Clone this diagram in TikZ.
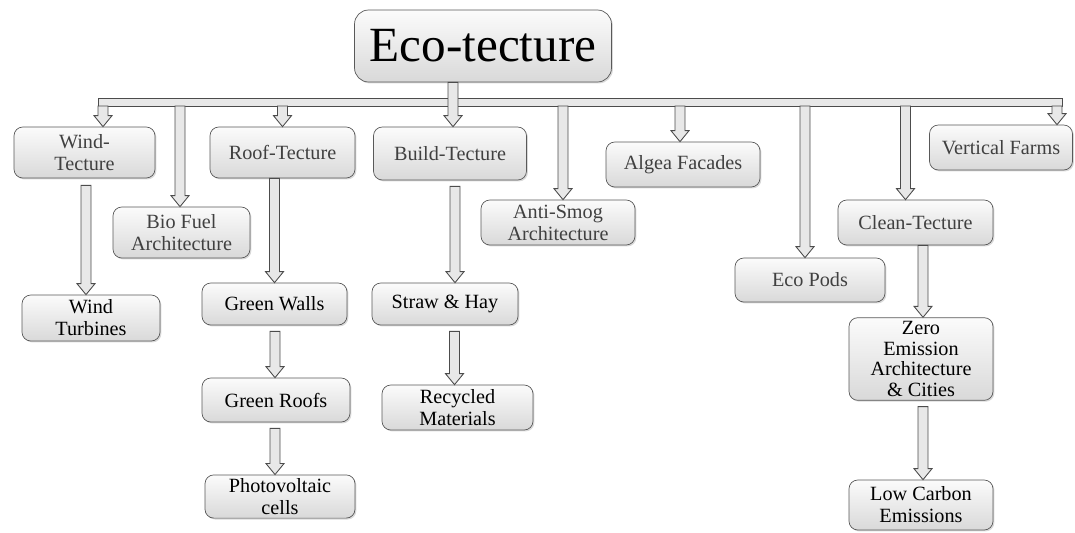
\documentclass[tikz,border=0pt]{standalone}
\usepackage{fontspec}
\setmainfont{Liberation Serif}
\usetikzlibrary{calc, positioning, shadows}

\tikzset{
  box/.style={rounded corners=5pt, draw=gray!70!black, top color=gray!3, bottom color=gray!30,
    align=center, inner sep=2pt, text=black!75, font=\fontsize{11.5}{12.5}\selectfont,
    drop shadow={shadow xshift=0.8pt, shadow yshift=-0.8pt, opacity=0.3}},
  subbox/.style={box, text=black},
  harrow/.style={draw=gray!60!black, fill=gray!18, line width=0.5pt, line join=miter},
}

% hollow arrow pointing down: [gap]{from}{to node}{x offset}
\newcommand{\hdown}[4][0]{%
  \path ($(#3.north)+(#4,0)$) coordinate (tip) (tip |- #2) coordinate (tail);
  \draw[harrow] ($(tail)+(-5,#1)$) -- ($(tip)+(-5,-11)$) -- ($(tip)+(-9,-11)$) -- (tip)
    -- ($(tip)+(9,-11)$) -- ($(tip)+(5,-11)$) -- ($(tail)+(5,#1)$) -- cycle;}

\begin{document}
\begin{tikzpicture}[x=0.02cm, y=-0.02cm]
  \useasboundingbox (0,0) rectangle (1075,532);

  \node[box, minimum width=5.14cm, minimum height=1.44cm, rounded corners=8pt,
    font=\fontsize{28}{30}\selectfont, text=black] (eco) at (483,46) {Eco-tecture};

  \node[box, minimum width=2.82cm, minimum height=1.02cm] (windt) at (84.5,152.5) {Wind-\\Tecture};
  \node[box, minimum width=2.74cm, minimum height=1.02cm] (biofuel) at (181.5,232.5) {Bio Fuel\\Architecture};
  \node[box, minimum width=2.90cm, minimum height=1.02cm] (roof) at (282.5,152.5) {Roof-Tecture};
  \node[box, minimum width=3.06cm, minimum height=1.06cm] (build) at (450,153.5) {Build-Tecture};
  \node[box, minimum width=3.08cm, minimum height=0.90cm] (antismog) at (558,222.5) {Anti-Smog\\Architecture};
  \node[box, minimum width=3.08cm, minimum height=0.90cm] (algea) at (683,164.5) {Algea Facades};
  \node[box, minimum width=3.00cm, minimum height=0.88cm] (ecopods) at (810,280) {Eco Pods};
  \node[box, minimum width=3.10cm, minimum height=0.90cm] (clean) at (915.5,222.5) {Clean-Tecture};
  \node[box, minimum width=2.86cm, minimum height=0.90cm] (vertical) at (1001,147.5) {Vertical Farms};

  \node[subbox, minimum width=2.76cm, minimum height=0.92cm] (windturb) at (91,318) {Wind\\Turbines};
  \node[subbox, minimum width=2.90cm, minimum height=0.84cm] (gwalls) at (274.5,304) {Green Walls};
  \node[subbox, minimum width=2.96cm, minimum height=0.88cm] (groofs) at (276,400) {Green Roofs};
  \node[subbox, minimum width=3.00cm, minimum height=0.86cm] (pv) at (280,496.5) {Photovoltaic\\cells};
  \node[subbox, minimum width=2.92cm, minimum height=0.84cm] (straw) at (445,304) {Straw \& Hay};
  \node[subbox, minimum width=3.02cm, minimum height=0.90cm] (recycled) at (457.5,407.5) {Recycled\\Materials};
  \node[subbox, minimum width=2.88cm, minimum height=1.64cm, font=\fontsize{11.5}{11.8}\selectfont] (zero) at (921,359) {Zero\\Emission\\Architecture\\\& Cities};
  \node[subbox, minimum width=2.88cm, minimum height=1.00cm] (lowcarbon) at (921,505) {Low Carbon\\Emissions};

  % bus bar
  \draw[harrow] (98,98) coordinate (busL) rectangle (1062,106) coordinate (busbot);

  \hdown{busbot}{windt}{18.5}
  \hdown{busbot}{biofuel}{-1.5}
  \hdown{busbot}{roof}{0}
  \hdown{busbot}{antismog}{5}
  \hdown{busbot}{algea}{-3}
  \hdown{busbot}{ecopods}{-5}
  \hdown{busbot}{clean}{-10}
  \hdown{busbot}{vertical}{56}
  \hdown{eco.south}{build}{3}

  \hdown[7]{windt.south}{windturb}{-5}
  \hdown{roof.south}{gwalls}{0}
  \hdown[6]{gwalls.south}{groofs}{-1}
  \hdown[6]{groofs.south}{pv}{-5}
  \hdown[6]{build.south}{straw}{10}
  \hdown[6]{straw.south}{recycled}{-3}
  \hdown{clean.south}{zero}{2}
  \hdown[6]{zero.south}{lowcarbon}{2}
\end{tikzpicture}
\end{document}
